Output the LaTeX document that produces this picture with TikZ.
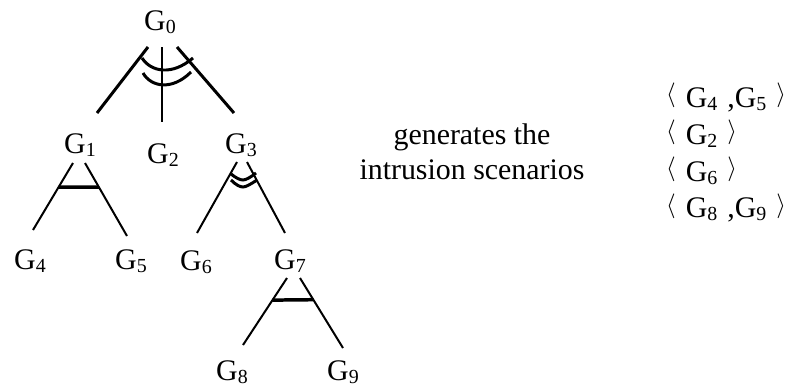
\documentclass[tikz,border=0pt]{standalone}
\usepackage{fontspec}
\setmainfont{Liberation Serif}
\usetikzlibrary{calc}
\newcommand{\gsub}[1]{G\raisebox{-3bp}{\fontsize{20}{20}\selectfont #1}}
\newcommand{\lang}{\raisebox{5.5bp}{\fontsize{23}{23}\selectfont$\langle$}\hspace{10bp}}
\newcommand{\rang}{\hspace{10bp}\raisebox{5.5bp}{\fontsize{23}{23}\selectfont$\rangle$}}
\tikzset{
  goal/.style={inner sep=0pt,font=\fontsize{30}{35}\selectfont},
  txt/.style={inner sep=0pt,font=\fontsize{30}{35}\selectfont,align=center},
  edge/.style={line width=2pt},
  topedge/.style={line width=3pt},
  andbar/.style={line width=3.5pt},
  seqarc/.style={line width=3pt},
}

\begin{document}
\begin{tikzpicture}[x=1bp,y=1bp]
  \useasboundingbox (0,0) rectangle (791,389);
  % goals
  \node[goal] (g0) at (160,367) {\gsub{0}};
  \node[goal] (g1) at (80,244) {\gsub{1}};
  \node[goal] (g2) at (163,234) {\gsub{2}};
  \node[goal] (g3) at (241,244) {\gsub{3}};
  \node[goal] (g4) at (30,128) {\gsub{4}};
  \node[goal] (g5) at (131,128) {\gsub{5}};
  \node[goal] (g6) at (196,127) {\gsub{6}};
  \node[goal] (g7) at (290,128) {\gsub{7}};
  \node[goal] (g8) at (232,17) {\gsub{8}};
  \node[goal] (g9) at (343,17) {\gsub{9}};
  % edge ends
  \coordinate (g0a) at ($(g0)+(-12,-25)$);
  \coordinate (g0b) at ($(g0)+(2,-25)$);
  \coordinate (g0c) at ($(g0)+(17,-25)$);
  \coordinate (g1a) at ($(g1)+(-7,-18)$);
  \coordinate (g1b) at ($(g1)+(5,-18)$);
  \coordinate (g3a) at ($(g3)+(-4,-17)$);
  \coordinate (g3b) at ($(g3)+(6,-17)$);
  \coordinate (g7a) at ($(g7)+(-3,-17)$);
  \coordinate (g7b) at ($(g7)+(10,-17)$);
  % G0
  \draw[topedge] (g0a) -- ($(g1)+(17,32)$);
  \draw[topedge] (g0b) -- ($(g2)+(-1,33)$);
  \draw[topedge] (g0c) -- ($(g3)+(-7,32)$);
  \draw[seqarc] (142,331) .. controls (151,317) and (172,313) .. (193,331);
  \draw[seqarc] (143,316) .. controls (151,302) and (172,298) .. (191,317);
  % G1
  \draw[edge] (g1a) -- ($(g4)+(3,31)$);
  \draw[edge] (g1b) -- ($(g5)+(-4,25)$);
  \draw[andbar] ($(g1a)!0.36!($(g4)+(3,31)$)$) -- ($(g1b)!0.33!($(g5)+(-4,25)$)$);
  % G3
  \draw[edge] (g3a) -- ($(g6)+(1,29)$);
  \draw[edge] (g3b) -- ($(g7)+(-5,28)$);
  \draw[seqarc] (231,215) .. controls (236,211) and (240,209) .. (243,209) .. controls (246,209) and (251,212) .. (256,216);
  \draw[seqarc] (231,209) .. controls (236,204) and (240,202) .. (243,202) .. controls (246,202) and (251,205) .. (257,209);
  % G7
  \draw[edge] (g7a) -- ($(g8)+(11,27)$);
  \draw[edge] (g7b) -- ($(g9)+(0,24)$);
  \draw[andbar] ($(g7a)!0.33!($(g8)+(11,27)$)$) -- ($(g7b)!0.31!($(g9)+(0,24)$)$);
  % text
  \node[txt] (gen) at (472,237) {generates the\\intrusion scenarios};
  \node[txt,align=left,anchor=north west,font=\fontsize{30}{37}\selectfont] (sc) at (666,306)
    {\lang\gsub{4}\hspace{10bp},\gsub{5}\rang\\
     \lang\gsub{2}\rang\\
     \lang\gsub{6}\rang\\
     \lang\gsub{8}\hspace{10bp},\gsub{9}\rang};
\end{tikzpicture}
\end{document}
